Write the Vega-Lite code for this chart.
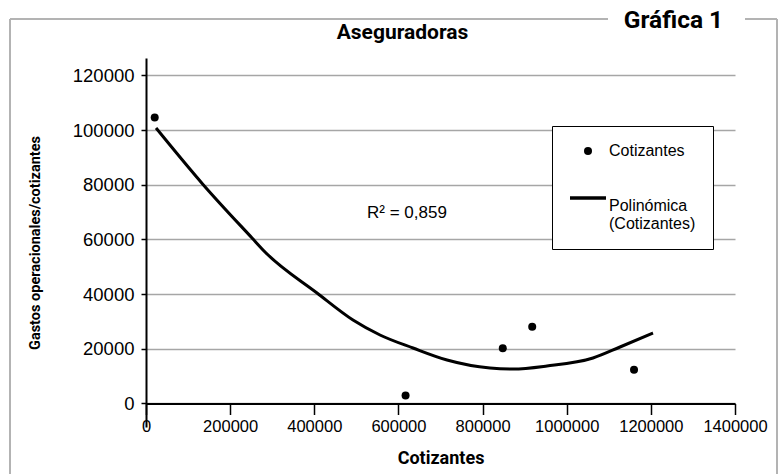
{
  "$schema": "https://vega.github.io/schema/vega-lite/v6.json",
  "width": 589,
  "height": 369,
  "autosize": {"type": "none"},
  "padding": {"left": 146, "top": 58, "right": 46, "bottom": 47},
  "background": "white",
  "config": {"view": {"stroke": null}, "font": "Liberation Sans"},
  "title": {
    "text": "Aseguradoras",
    "font": "Roboto",
    "fontSize": 21,
    "fontWeight": "bold",
    "color": "black",
    "anchor": "middle",
    "dx": -38,
    "dy": 45,
    "offset": 10
  },
  "datasets": {
    "puntos": [
      {"cotizantes": 20700, "gastos": 104600, "serie": "Cotizantes"},
      {"cotizantes": 617000, "gastos": 2900, "serie": "Cotizantes"},
      {"cotizantes": 848000, "gastos": 20200, "serie": "Cotizantes"},
      {"cotizantes": 918000, "gastos": 28100, "serie": "Cotizantes"},
      {"cotizantes": 1160000, "gastos": 12300, "serie": "Cotizantes"}
    ],
    "tendencia": [
      {"cotizantes": 23800, "gastos": 100800},
      {"cotizantes": 135500, "gastos": 80150},
      {"cotizantes": 252000, "gastos": 60550},
      {"cotizantes": 282900, "gastos": 55430},
      {"cotizantes": 406500, "gastos": 40430},
      {"cotizantes": 492000, "gastos": 30550},
      {"cotizantes": 556200, "gastos": 25060},
      {"cotizantes": 634600, "gastos": 20300},
      {"cotizantes": 715500, "gastos": 15910},
      {"cotizantes": 817700, "gastos": 12990},
      {"cotizantes": 872300, "gastos": 12620},
      {"cotizantes": 953100, "gastos": 13720},
      {"cotizantes": 1062500, "gastos": 16650},
      {"cotizantes": 1126700, "gastos": 20670},
      {"cotizantes": 1205100, "gastos": 25790}
    ],
    "etiquetas": [
      {"texto": "R² = 0,859", "cotizantes": 525300, "gastos": 69700}
    ]
  },
  "layer": [
    {
      "data": {"name": "tendencia"},
      "mark": {"type": "line", "color": "black", "strokeWidth": 3, "interpolate": "monotone"},
      "encoding": {
        "x": {
          "field": "cotizantes",
          "type": "quantitative",
          "scale": {"domain": [0, 1400000], "nice": false, "zero": false},
          "axis": {
            "title": "Cotizantes",
            "values": [0, 200000, 400000, 600000, 800000, 1000000, 1200000, 1400000],
            "format": "d",
            "grid": false,
            "offset": -23.5,
            "domainColor": "black",
            "domainWidth": 2,
            "tickColor": "black",
            "tickWidth": 1.5,
            "tickSize": 11,
            "labelFont": "Liberation Sans",
            "labelFontSize": 16.5,
            "labelColor": "black",
            "labelPadding": 4,
            "labelFlush": false,
            "labelOverlap": false,
            "titleFont": "Roboto",
            "titleFontSize": 18,
            "titleFontWeight": "bold",
            "titleColor": "black",
            "titlePadding": 14
          }
        },
        "y": {
          "field": "gastos",
          "type": "quantitative",
          "scale": {"domain": [-8600, 126400], "nice": false, "zero": false},
          "axis": {
            "title": "Gastos operacionales/cotizantes",
            "values": [0, 20000, 40000, 60000, 80000, 100000, 120000],
            "format": "d",
            "grid": true,
            "gridColor": "#a6a6a6",
            "gridWidth": 1.5,
            "domainColor": "black",
            "domainWidth": 2,
            "tickColor": "black",
            "tickWidth": 1.5,
            "tickSize": 5,
            "labelFont": "Liberation Sans",
            "labelFontSize": 18.5,
            "labelColor": "black",
            "labelPadding": 7,
            "titleFont": "Roboto",
            "titleFontSize": 14.5,
            "titleFontWeight": "bold",
            "titleColor": "black",
            "titlePadding": 30
          }
        }
      }
    },
    {
      "data": {"name": "puntos"},
      "mark": {"type": "point", "filled": true, "color": "black", "opacity": 1},
      "encoding": {
        "x": {"field": "cotizantes", "type": "quantitative"},
        "y": {"field": "gastos", "type": "quantitative"},
        "shape": {
          "field": "serie",
          "type": "nominal",
          "scale": {"domain": ["Cotizantes", "Polinómica (Cotizantes)"], "range": ["circle", "M-1,-0.1H1V0.1H-1Z"]},
          "legend": {
            "title": null,
            "orient": "none",
            "legendX": 406,
            "legendY": 68,
            "padding": 17,
            "strokeColor": "black",
            "fillColor": "white",
            "labelFont": "Liberation Sans",
            "labelFontSize": 16,
            "labelColor": "black",
            "labelOffset": 2,
            "labelBaseline": {"expr": "datum.value == 'Cotizantes' ? 'middle' : 'top'"},
            "rowPadding": 20,
            "symbolFillColor": "black",
            "labelExpr": "datum.label == 'Polinómica (Cotizantes)' ? ['Polinómica', '(Cotizantes)'] : datum.label"
          }
        },
        "size": {
          "field": "serie",
          "type": "nominal",
          "scale": {"domain": ["Cotizantes", "Polinómica (Cotizantes)"], "range": [64, 1296]},
          "legend": {
            "title": null,
            "orient": "none",
            "legendX": 406,
            "legendY": 68,
            "padding": 17,
            "strokeColor": "black",
            "fillColor": "white",
            "labelFont": "Liberation Sans",
            "labelFontSize": 16,
            "labelColor": "black",
            "labelOffset": 2,
            "labelBaseline": {"expr": "datum.value == 'Cotizantes' ? 'middle' : 'top'"},
            "rowPadding": 20,
            "symbolFillColor": "black",
            "labelExpr": "datum.label == 'Polinómica (Cotizantes)' ? ['Polinómica', '(Cotizantes)'] : datum.label"
          }
        }
      }
    },
    {
      "data": {"name": "etiquetas"},
      "mark": {"type": "text", "align": "left", "baseline": "middle", "font": "Liberation Sans", "fontSize": 17, "color": "black"},
      "encoding": {
        "x": {"field": "cotizantes", "type": "quantitative"},
        "y": {"field": "gastos", "type": "quantitative"},
        "text": {"field": "texto"}
      }
    },
    {
      "data": {"values": [{}]},
      "mark": {"type": "text", "align": "center", "baseline": "alphabetic", "font": "Roboto", "fontSize": 24.5, "fontWeight": "bold", "color": "black"},
      "encoding": {
        "x": {"datum": 1253800, "type": "quantitative"},
        "y": {"datum": 137400, "type": "quantitative"},
        "text": {"value": "Gráfica 1"}
      }
    },
    {
      "data": {"values": [{}]},
      "mark": {"type": "rule", "color": "#b3b3b3", "strokeWidth": 2},
      "encoding": {
        "x": {"datum": -323260, "type": "quantitative"},
        "x2": {"datum": 1098130},
        "y": {"datum": 140670, "type": "quantitative"}
      }
    },
    {
      "data": {"values": [{}]},
      "mark": {"type": "rule", "color": "#b3b3b3", "strokeWidth": 2},
      "encoding": {
        "x": {"datum": 1423770, "type": "quantitative"},
        "x2": {"datum": 1499830},
        "y": {"datum": 140670, "type": "quantitative"}
      }
    },
    {
      "data": {"values": [{}]},
      "mark": {"type": "rule", "color": "#b3b3b3", "strokeWidth": 2},
      "encoding": {
        "x": {"datum": -323260, "type": "quantitative"},
        "y": {"datum": 140670, "type": "quantitative"},
        "y2": {"datum": -26000}
      }
    },
    {
      "data": {"values": [{}]},
      "mark": {"type": "rule", "color": "#b3b3b3", "strokeWidth": 2},
      "encoding": {
        "x": {"datum": 1499830, "type": "quantitative"},
        "y": {"datum": 140670, "type": "quantitative"},
        "y2": {"datum": -26000}
      }
    }
  ]
}
